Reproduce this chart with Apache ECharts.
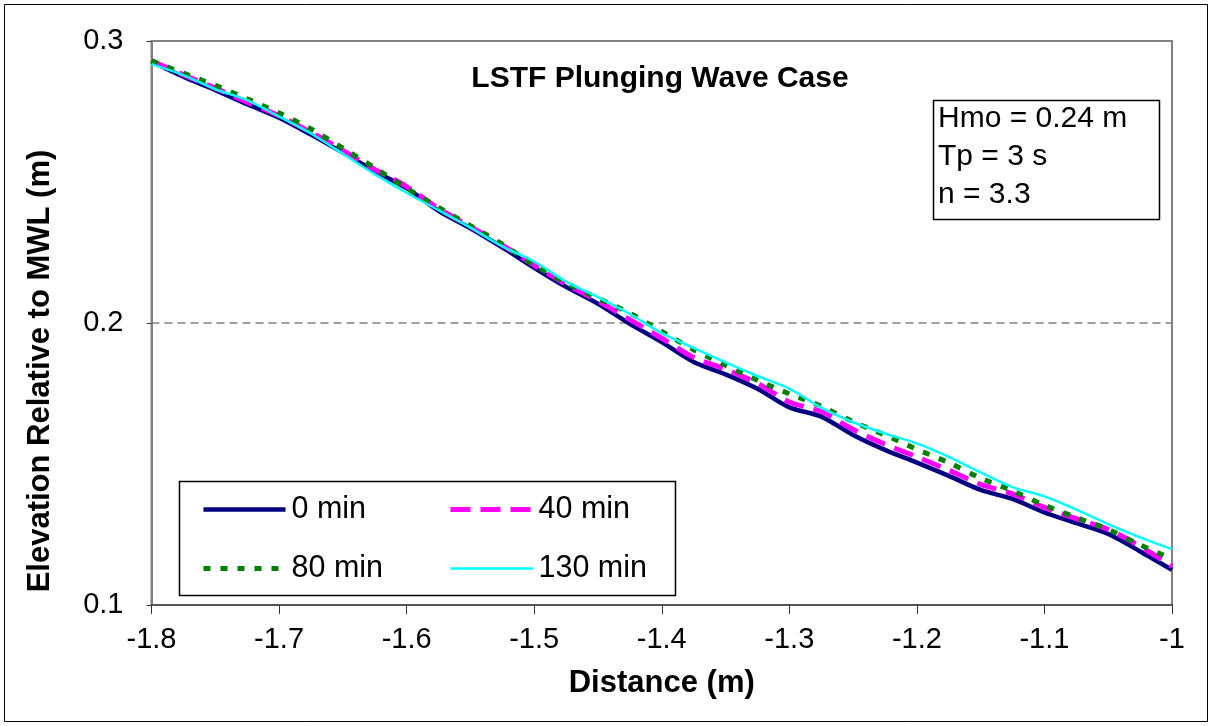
<!DOCTYPE html>
<html>
<head>
<meta charset="utf-8">
<script src="https://cdn.jsdelivr.net/npm/echarts@6/dist/echarts.min.js"></script>
<style>
html,body{margin:0;padding:0;background:#fff;}
#chart{width:1212px;height:726px;}
</style>
</head>
<body>
<div id="chart"></div>
<script>
// Distance (m)
const distance = [-1.800,-1.775,-1.750,-1.725,-1.700,-1.675,-1.650,-1.625,-1.600,-1.575,-1.550,-1.525,-1.500,-1.475,-1.450,-1.425,-1.400,-1.375,-1.350,-1.325,-1.300,-1.275,-1.250,-1.225,-1.200,-1.175,-1.150,-1.125,-1.100,-1.075,-1.050,-1.025,-1.000];
// Elevation relative to MWL (m)
const elev0   = [0.2927,0.2873,0.2826,0.2776,0.2728,0.2668,0.2604,0.2538,0.2478,0.2398,0.2336,0.2268,0.2196,0.2128,0.2068,0.1997,0.1932,0.1862,0.1818,0.1767,0.1701,0.1668,0.1603,0.1550,0.1505,0.1458,0.1408,0.1376,0.1328,0.1290,0.1252,0.1190,0.1125];
const elev40  = [0.2930,0.2880,0.2833,0.2783,0.2735,0.2676,0.2612,0.2545,0.2484,0.2406,0.2342,0.2276,0.2205,0.2138,0.2078,0.2012,0.1946,0.1878,0.1836,0.1786,0.1720,0.1686,0.1622,0.1570,0.1525,0.1478,0.1428,0.1394,0.1346,0.1306,0.1268,0.1208,0.1137];
const elev80  = [0.2930,0.2886,0.2843,0.2795,0.2745,0.2688,0.2620,0.2550,0.2478,0.2410,0.2345,0.2280,0.2205,0.2142,0.2088,0.2035,0.1970,0.1905,0.1850,0.1797,0.1749,0.1705,0.1650,0.1603,0.1552,0.1505,0.1450,0.1405,0.1354,0.1310,0.1268,0.1213,0.1164];
const elev130 = [0.2918,0.2879,0.2829,0.2790,0.2732,0.2672,0.2600,0.2528,0.2462,0.2400,0.2338,0.2272,0.2218,0.2147,0.2092,0.2032,0.1964,0.1912,0.1860,0.1812,0.1767,0.1700,0.1648,0.1608,0.1573,0.1525,0.1470,0.1418,0.1385,0.1338,0.1287,0.1240,0.1198];
const seriesNames = ['0 min','40 min','80 min','130 min'];
const xTicks = [-1.8,-1.7,-1.6,-1.5,-1.4,-1.3,-1.2,-1.1,-1.0];
const yTicks = [0.1,0.2,0.3];
const infoLines = ['Hmo = 0.24 m','Tp = 3 s','n = 3.3'];

const FONT = 'Liberation Sans, Arial, Helvetica, sans-serif';
const zip = ys => distance.map((x,i)=>[x, ys[i]]);

const chart = echarts.init(document.getElementById('chart'), null, {renderer:'canvas'});
chart.setOption({
  backgroundColor:'#ffffff',
  animation:false,
  title:{
    text:'LSTF Plunging Wave Case',
    left:655, top:59, textAlign:'center',
    textStyle:{fontFamily:FONT, fontSize:30, fontWeight:'bold', color:'#000'}
  },
  grid:{left:151.5, right:40, top:41, bottom:121, show:true, borderColor:'#808080', borderWidth:2, backgroundColor:'#fff'},
  xAxis:{
    type:'value', min:xTicks[0], max:xTicks[xTicks.length-1], interval:0.1,
    name:'Distance (m)', nameLocation:'middle', nameGap:63,
    nameTextStyle:{fontFamily:FONT, fontSize:31, fontWeight:'bold', color:'#000'},
    axisLine:{show:true, onZero:false, lineStyle:{color:'#555', width:2}},
    axisTick:{show:true, inside:false, length:9, lineStyle:{color:'#333', width:1}},
    axisLabel:{fontFamily:FONT, fontSize:29, color:'#000', margin:20,
      formatter:v=>String(Math.round(v*10)/10)},
    splitLine:{show:false}
  },
  yAxis:{
    type:'value', min:yTicks[0], max:yTicks[yTicks.length-1], interval:0.1,
    axisLine:{show:true, onZero:false, lineStyle:{color:'#808080', width:2}},
    axisTick:{show:true, inside:false, length:5, lineStyle:{color:'#333', width:1}},
    axisLabel:{fontFamily:FONT, fontSize:29, color:'#000', margin:28,
      formatter:v=>String(Math.round(v*10)/10)},
    splitLine:{show:true, lineStyle:{color:'#808080', width:1.5, type:[8,5]}}
  },
  legend:[
    {data:['0 min','80 min'], orient:'vertical', left:201, top:494, padding:0, itemWidth:82, itemHeight:14, itemGap:28,
     itemStyle:{opacity:0}, lineStyle:{width:'inherit'},
     textStyle:{fontFamily:FONT, fontSize:30.5, color:'#000', lineHeight:30, padding:[0,0,0,1]}},
    {data:['40 min','130 min'], orient:'vertical', left:448, top:494, padding:0, itemWidth:83, itemHeight:14, itemGap:28,
     itemStyle:{opacity:0}, lineStyle:{width:'inherit'},
     textStyle:{fontFamily:FONT, fontSize:30.5, color:'#000', lineHeight:30, padding:[0,0,0,0]}}
  ],
  graphic:[
    {type:'rect', z:-10, shape:{x:4.5, y:4.5, width:1203, height:717}, style:{fill:'none', stroke:'#000', lineWidth:1}},
    {type:'rect', z:0, shape:{x:179.5, y:481.5, width:496, height:114}, style:{fill:'#fff', stroke:'#000', lineWidth:1.5}},
    {type:'rect', z:10, shape:{x:933.5, y:100.5, width:226, height:119}, style:{fill:'#fff', stroke:'#000', lineWidth:1.5}},
    {type:'text', z:11, x:938, y:100, style:{text:infoLines.join('\n'), fontFamily:FONT, fontSize:30, lineHeight:38, fill:'#000'}},
    {type:'text', z:11, x:40, y:371, rotation:Math.PI/2,
     style:{text:'Elevation Relative to MWL (m)', fontFamily:FONT, fontSize:31, fontWeight:'bold', fill:'#000', align:'center', verticalAlign:'middle'}}
  ],
  series:[
    {name:seriesNames[0], type:'line', data:zip(elev0), showSymbol:false, symbol:'none', smooth:0.3, z:2,
     lineStyle:{color:'#000080', width:4.5}, itemStyle:{color:'#000080'}},
    {name:seriesNames[1], type:'line', data:zip(elev40), showSymbol:false, symbol:'none', smooth:0.3, z:3,
     lineStyle:{color:'#FF00FF', width:5, type:[20,10]}, itemStyle:{color:'#FF00FF'}},
    {name:seriesNames[2], type:'line', data:zip(elev80), showSymbol:false, symbol:'none', smooth:0.3, z:4,
     lineStyle:{color:'#008000', width:5, type:[7,10]}, itemStyle:{color:'#008000'}},
    {name:seriesNames[3], type:'line', data:zip(elev130), showSymbol:false, symbol:'none', smooth:0.3, z:5,
     lineStyle:{color:'#00FFFF', width:2.5}, itemStyle:{color:'#00FFFF'}}
  ]
});
</script>
</body>
</html>
